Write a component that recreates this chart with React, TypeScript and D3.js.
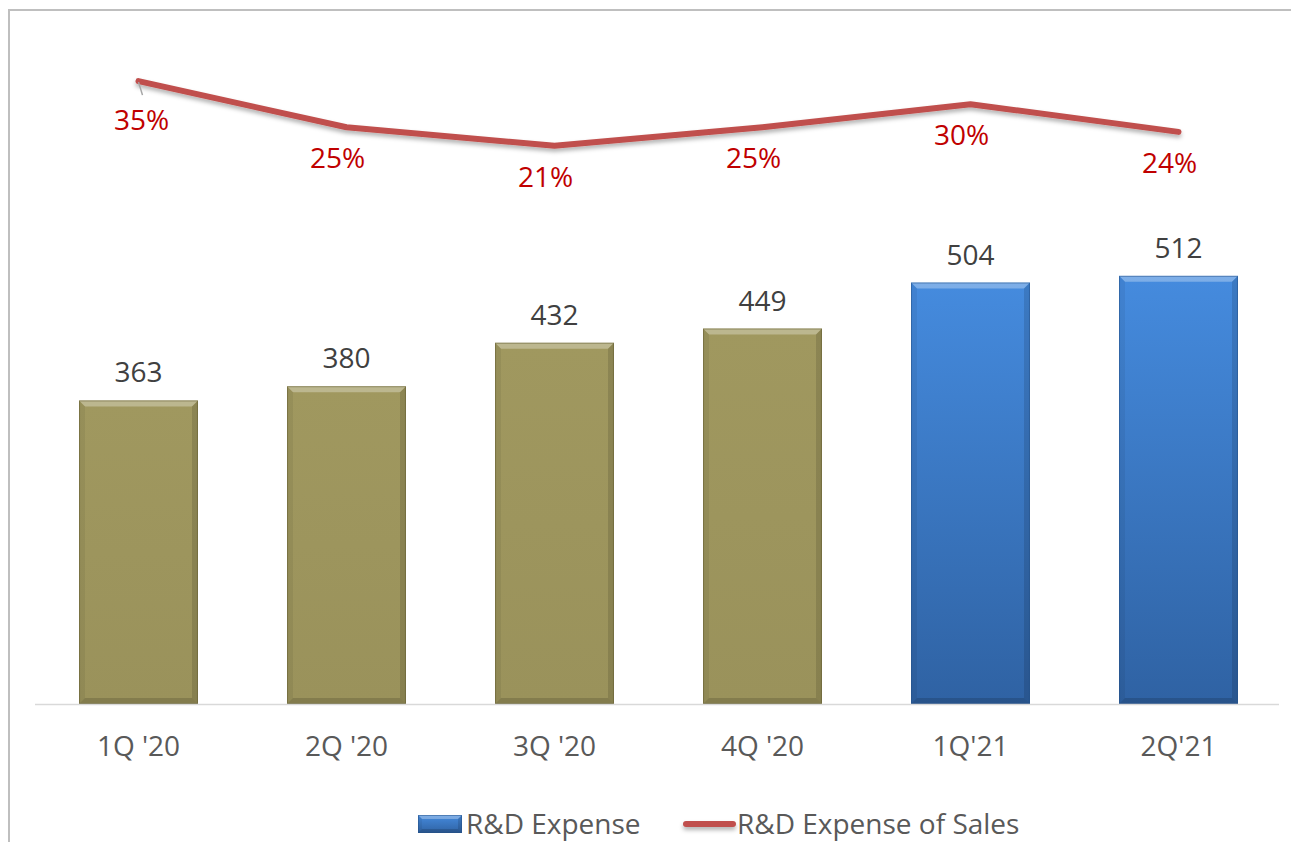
import React from 'react';
import * as d3 from 'd3';

const categories = ["1Q '20", "2Q '20", "3Q '20", "4Q '20", "1Q'21", "2Q'21"];
const expense = [363, 380, 432, 449, 504, 512];
const expenseOfSales = [35, 25, 21, 25, 30, 24];
// first four quarters use the olive fill, the 2021 quarters blue
const barKind = ['olive', 'olive', 'olive', 'olive', 'blue', 'blue'];

const W = 1291;
const H = 842;
const FONT = "'Open Sans', 'Noto Sans', sans-serif";

const x = d3.scaleBand<string>()
  .domain(categories)
  .range([34.5, 1282.5])
  .paddingInner(0.428)
  .paddingOuter(0.214);

const y = d3.scaleLinear().domain([0, 800]).range([704, 35]);
const yPct = d3.scaleLinear().domain([-100, 45]).range([704, 35]);

const line = d3.line<number>()
  .x((_, i) => (x(categories[i]) as number) + x.bandwidth() / 2)
  .y(d => yPct(d));

const Bevel: React.FC<{ x0: number; y0: number; w: number; h: number; kind: string; b?: number }> = ({ x0, y0, w, h, kind, b = 6 }) => {
  const edge = kind === 'blue' ? '#244f86' : '#5f5a30';
  const pts = (a: number[][]) => a.map(p => p.join(',')).join(' ');
  return (
    <g>
      <rect x={x0} y={y0} width={w} height={h} fill={`url(#grad-${kind})`} />
      <polygon points={pts([[x0, y0], [x0 + w, y0], [x0 + w - b, y0 + b], [x0 + b, y0 + b]])}
        fill="#ffffff" opacity={0.3} />
      <polygon points={pts([[x0, y0], [x0 + b, y0 + b], [x0 + b, y0 + h - b], [x0, y0 + h]])}
        fill="#000000" opacity={0.06} />
      <polygon points={pts([[x0 + w, y0], [x0 + w - b, y0 + b], [x0 + w - b, y0 + h - b], [x0 + w, y0 + h]])}
        fill="#000000" opacity={0.12} />
      <polygon points={pts([[x0, y0 + h], [x0 + b, y0 + h - b], [x0 + w - b, y0 + h - b], [x0 + w, y0 + h]])}
        fill="#000000" opacity={0.15} />
      <rect x={x0 + 0.5} y={y0 + 0.5} width={w - 1} height={h - 1} fill="none" stroke={edge} strokeWidth={1} opacity={0.5} />
    </g>
  );
};

export default function App() {
  const bw = x.bandwidth();
  return (
    <svg width={W} height={H} style={{ position: 'absolute', left: 0, top: 0, background: '#fff' }}>
      <defs>
        <linearGradient id="grad-olive" x1="0" y1="0" x2="0" y2="1">
          <stop offset="0" stopColor="#a0985f" />
          <stop offset="1" stopColor="#9a925b" />
        </linearGradient>
        <linearGradient id="grad-blue" x1="0" y1="0" x2="0" y2="1">
          <stop offset="0" stopColor="#458bde" />
          <stop offset="1" stopColor="#2f62a3" />
        </linearGradient>
        <filter id="shadow" filterUnits="userSpaceOnUse" x="0" y="0" width={W} height={H}>
          <feDropShadow dx="0" dy="3" stdDeviation="2" floodColor="#000" floodOpacity="0.3" />
        </filter>
      </defs>

      <rect x={9} y={10} width={W} height={H} fill="none" stroke="#bfbfbf" strokeWidth={2} />

      {/* bars */}
      {expense.map((v, i) => (
        <Bevel key={i} x0={x(categories[i]) as number} y0={y(v)} w={bw} h={y(0) - y(v)} kind={barKind[i]} />
      ))}

      <line x1={35} x2={1279} y1={704.5} y2={704.5} stroke="#d9d9d9" strokeWidth={1.5} />

      {/* bar value labels */}
      {expense.map((v, i) => (
        <text key={i} x={(x(categories[i]) as number) + bw / 2} y={y(v) - 18}
          textAnchor="middle" fontFamily={FONT} fontSize={28} fill="#404040">{v}</text>
      ))}

      {/* category labels */}
      {categories.map(c => (
        <text key={c} x={(x(c) as number) + bw / 2} y={756}
          textAnchor="middle" fontFamily={FONT} fontSize={28} fill="#595959">{c}</text>
      ))}

      {/* line series */}
      <path d={line(expenseOfSales) as string} fill="none" stroke="#c0504d" strokeWidth={6}
        strokeLinejoin="round" strokeLinecap="round" filter="url(#shadow)" />

      {/* first label was dragged down in the original, with a leader line */}
      <line x1={(x(categories[0]) as number) + bw / 2} y1={yPct(expenseOfSales[0]) + 1}
        x2={(x(categories[0]) as number) + bw / 2 + 4} y2={yPct(expenseOfSales[0]) + 14}
        stroke="#a6a6a6" strokeWidth={1.5} />
      {expenseOfSales.map((v, i) => {
        const cx = (x(categories[i]) as number) + bw / 2;
        const first = i === 0;
        return (
          <text key={i} x={first ? cx + 3 : cx - 9} y={yPct(v) + (first ? 49 : 41)}
            textAnchor="middle" fontFamily={FONT} fontSize={28} fill="#c00000">{v}%</text>
        );
      })}

      {/* legend */}
      <Bevel x0={418} y0={815} w={44} h={18} kind="blue" b={4} />
      <text x={466} y={834} fontFamily={FONT} fontSize={28} fill="#595959">R&amp;D Expense</text>
      <line x1={686} x2={733} y1={824} y2={824} stroke="#c0504d" strokeWidth={6} strokeLinecap="round" filter="url(#shadow)" />
      <text x={737} y={834} fontFamily={FONT} fontSize={28} fill="#595959">R&amp;D Expense of Sales</text>
    </svg>
  );
}
